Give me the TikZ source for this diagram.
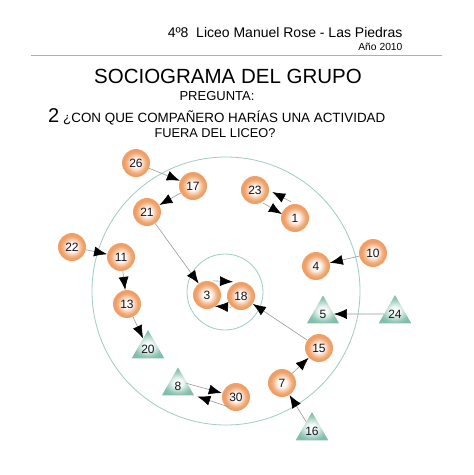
\documentclass[tikz,border=0pt]{standalone}
\usepackage{fontspec}
\setmainfont{Liberation Sans}
\usetikzlibrary{shapes.geometric}
\usetikzlibrary{arrows.meta}
\definecolor{ballorange}{RGB}{238,155,95}
\definecolor{trigreen}{RGB}{128,190,168}
\definecolor{ringteal}{RGB}{160,204,198}
\definecolor{linegray}{RGB}{155,155,155}
\definecolor{numink}{RGB}{20,20,30}
\pgfdeclareradialshading{orb}{\pgfpoint{0bp}{0bp}}{color(0bp)=(white); color(8bp)=(white!92!ballorange); color(18bp)=(ballorange!85); color(23bp)=(ballorange); color(25bp)=(ballorange!90); color(50bp)=(ballorange!90)}
\pgfdeclareradialshading{prism}{\pgfpoint{0bp}{-3bp}}{color(0bp)=(white); color(7bp)=(white!90!trigreen); color(20bp)=(trigreen!85); color(25bp)=(trigreen); color(50bp)=(trigreen)}
\tikzset{
ball/.style={circle, minimum size=28pt, inner sep=0pt, shading=orb, text=numink, font=\fontsize{12}{12}\selectfont},
tri/.style={regular polygon, regular polygon sides=3, minimum size=37pt, inner sep=0pt, shading=prism, text=numink, font=\fontsize{12}{12}\selectfont},
link/.style={draw=linegray, line width=0.6pt, -{Latex[black,length=13pt,width=10pt]}},
ring/.style={draw=ringteal, line width=0.8pt},
}
\begin{document}
\begin{tikzpicture}[x=1pt,y=-1pt]
\fill[white] (0,0) rectangle (474,475);
\useasboundingbox (0,0) rectangle (474,475);
\path node[anchor=base east, font=\fontsize{14}{16}\selectfont] (head) at (406,37) {4º8\ \ Liceo Manuel Rose - Las Piedras};
\path node[anchor=base east, font=\fontsize{10.3}{12}\selectfont] (year) at (406,50) {Año 2010};
\draw[linegray!80, line width=0.7pt] (31,55) -- (442,55);
\path node[anchor=base, font=\fontsize{20.5}{22}\selectfont] (title) at (228,83) {SOCIOGRAMA DEL GRUPO};
\path node[anchor=base, font=\fontsize{13}{14}\selectfont] (preg) at (217,100) {PREGUNTA:};
\path node[anchor=base west, inner sep=0pt, font=\fontsize{20}{22}\selectfont] (num) at (48,122) {2};
\path node[anchor=base west, inner sep=0pt, font=\fontsize{13.4}{15}\selectfont] (q1) at (63,122) {¿CON QUE COMPAÑERO HARÍAS UNA ACTIVIDAD};
\path node[anchor=base, font=\fontsize{12.8}{15}\selectfont] (q2) at (215,137) {FUERA DEL LICEO?};
\draw[ring] (226,291) circle[radius=134pt];
\draw[ring] (225,292) circle[radius=38pt];
\node[ball] (n26) at (136,163) {26};
\node[ball] (n17) at (193,186) {17};
\node[ball] (n21) at (147,212) {21};
\node[ball] (n23) at (255,190) {23};
\node[ball] (n1) at (295,218) {1};
\node[ball] (n22) at (72,247) {22};
\node[ball] (n11) at (121,257) {11};
\node[ball] (n13) at (127,304) {13};
\node[ball] (n4) at (316,266) {4};
\node[ball] (n10) at (373,253) {10};
\node[ball] (n3) at (207,295) {3};
\node[ball] (n18) at (241,296) {18};
\node[ball] (n15) at (319,348) {15};
\node[ball] (n7) at (282,383) {7};
\node[ball] (n30) at (236,397) {30};
\node[tri] (n20) at (148,349) {20};
\node[tri] (n5) at (323,314) {5};
\node[tri] (n24) at (395,314) {24};
\node[tri] (n8) at (178,386) {8};
\node[tri] (n16) at (312,431) {16};
\draw[link] (n26) -- (n17);
\draw[link] (n17) -- (n21);
\draw[link] (n21) -- (n3);
\draw[link] ([shift={(-4,-2)}]n1.north) -- ([shift={(3,2)}]n23.east);
\draw[link] ([shift={(-2,3)}]n23.south east) -- ([shift={(1,-4)}]n1.west);
\draw[link] (n22) -- (n11);
\draw[link] (n11) -- (n13);
\draw[link] (n13) -- (n20);
\draw[link] ([xshift=6pt]n3.north) -- ([shift={(-8,0)}]n18.north);
\draw[link] ([shift={(-10,-3)}]n18.south) -- ([shift={(8,-3)}]n3.south);
\draw[link] (n10) -- (n4);
\draw[link] (n24) -- (n5);
\draw[link] (n15) -- (n18);
\draw[link] (n7) -- (n15);
\draw[link] (n16) -- (n7);
\draw[link] ([shift={(0,2)}]n8.side 3) -- ([shift={(0,-4)}]n30.west);
\draw[link] ([shift={(3,0)}]n30.south west) -- ([shift={(3,1)}]n8.corner 3);
\end{tikzpicture}
\end{document}
